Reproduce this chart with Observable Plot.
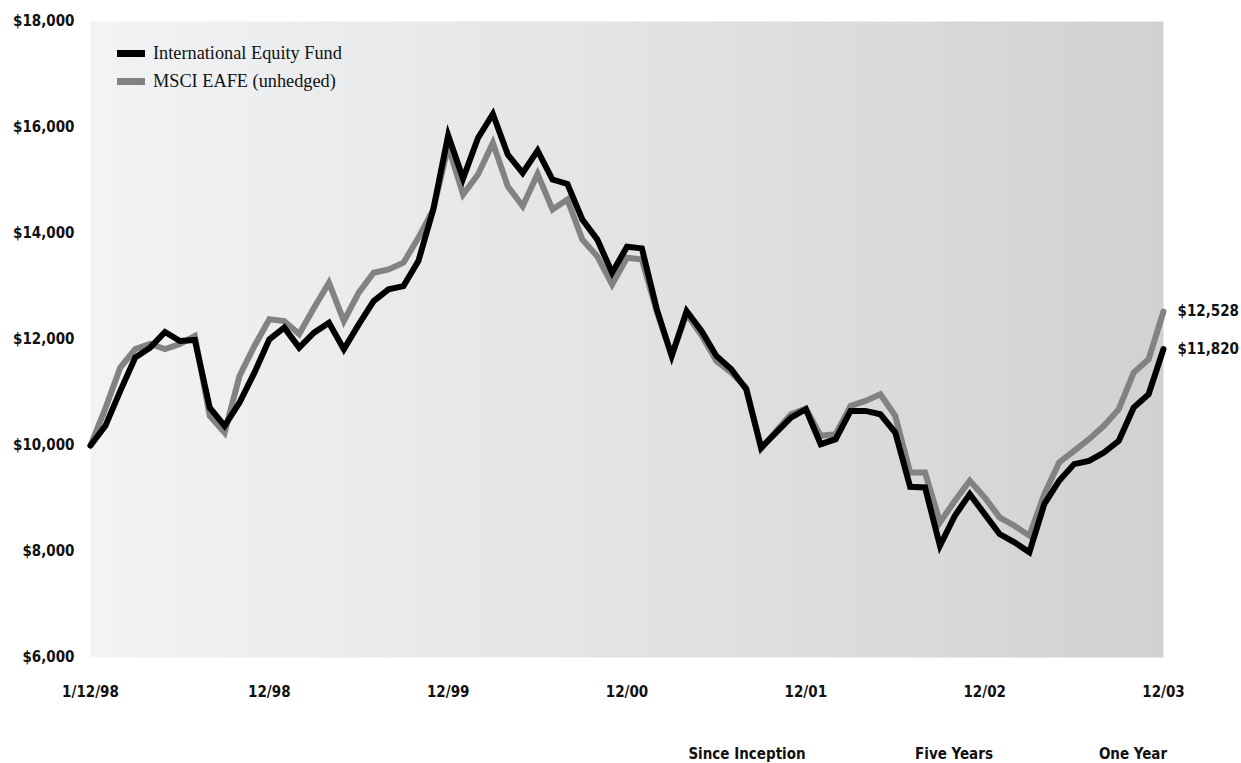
<!DOCTYPE html>
<html>
<head>
<meta charset="utf-8">
<script src="https://cdn.jsdelivr.net/npm/d3@7"></script>
<script src="https://cdn.jsdelivr.net/npm/@observablehq/plot@0.6"></script>
<style>
  html, body { margin: 0; padding: 0; background: #fff; }
  #wrap { position: relative; width: 1241px; height: 763px; overflow: hidden; }
  .lbl { font-family: "Liberation Sans Narrow", "DejaVu Sans Condensed", sans-serif; font-weight: bold; font-size: 15px; color: #111; }
  #legend { position: absolute; left: 117px; top: 39px; font-family: "Liberation Serif", "Times New Roman", serif; font-size: 18.3px; color: #111; }
  #legend .row { display: flex; align-items: center; height: 28.5px; }
  #legend .sw { width: 28px; height: 7px; margin-right: 8px; }
  .bottom { position: absolute; top: 745px; transform: translateX(-50%); white-space: nowrap; }
</style>
</head>
<body>
<div id="wrap"></div>
<script>
const xTickIndex = [0, 12, 24, 36, 48, 60, 72];
const xTickLabels = ["1/12/98", "12/98", "12/99", "12/00", "12/01", "12/02", "12/03"];
const yTicks = [6000, 8000, 10000, 12000, 14000, 16000, 18000];
const seriesNames = ["International Equity Fund", "MSCI EAFE (unhedged)"];
const seriesColors = ["#000000", "#828282"];
const bottomHeaders = ["Since Inception", "Five Years", "One Year"];

// Growth of $10,000, inception then month-ends 1/98 .. 12/03
const fundValues = [
  10000, 10371, 11030, 11658, 11846, 12142, 11972, 11991, 10716, 10371, 10810, 11375,
  12004, 12224, 11846, 12129, 12317, 11815, 12286, 12726, 12946, 13008, 13479, 14450,
  15850, 15037, 15802, 16255, 15490, 15144, 15565, 15018, 14936, 14265, 13889, 13260,
  13750, 13719, 12570, 11690, 12537, 12160, 11690, 11439, 11062, 9962, 10245, 10527,
  10684, 10025, 10119, 10653, 10653, 10590, 10245, 9222, 9209, 8110, 8675, 9083,
  8706, 8330, 8173, 7984, 8894, 9335, 9649, 9711, 9868, 10088, 10716, 10967,
  11820
];
const indexValues = [
  10000, 10700, 11470, 11820, 11915, 11820, 11915, 12066, 10559, 10245, 11313, 11878,
  12381, 12349, 12104, 12600, 13071, 12349, 12883, 13260, 13323, 13448, 13919, 14450,
  15650, 14735, 15112, 15708, 14892, 14515, 15124, 14453, 14641, 13889, 13573, 13040,
  13542, 13511, 12520, 11690, 12480, 12080, 11595, 11375, 11093, 9937, 10270, 10590,
  10700, 10182, 10213, 10747, 10842, 10967, 10559, 9491, 9491, 8549, 8958, 9335,
  9021, 8644, 8487, 8298, 9083, 9680, 9900, 10119, 10371, 10684, 11375, 11627,
  12528
];

const fund = fundValues.map((v, i) => ({i, v}));
const idx = indexValues.map((v, i) => ({i, v}));
const ends = [
  {i: fund.length - 1, v: fundValues[fundValues.length - 1]},
  {i: idx.length - 1, v: indexValues[indexValues.length - 1]}
];
const money = d => "$" + d3.format(",")(d);
const FONT = "'Liberation Sans Narrow', 'DejaVu Sans Condensed', sans-serif";
const FS = 15;

const gradientDefs = () => {
  const ns = "http://www.w3.org/2000/svg";
  const defs = document.createElementNS(ns, "defs");
  defs.innerHTML = '<linearGradient id="bggrad" x1="0" x2="1" y1="0" y2="0">' +
    '<stop offset="0" stop-color="#f2f3f5"/>' +
    '<stop offset="0.5" stop-color="#e2e3e5"/>' +
    '<stop offset="1" stop-color="#d0d1d3"/></linearGradient>';
  return defs;
};

const chart = Plot.plot({
  width: 1241,
  height: 763,
  marginLeft: 90,
  marginRight: 78,
  marginTop: 21,
  marginBottom: 106,
  style: {background: "#fff", fontFamily: FONT, overflow: "visible"},
  x: {domain: [0, 72], axis: null, label: null},
  y: {domain: [6000, 18000], axis: null, label: null},
  marks: [
    gradientDefs,
    Plot.frame({fill: "url(#bggrad)", stroke: "none"}),
    Plot.axisY({ticks: yTicks, tickSize: 0, tickPadding: 16, tickFormat: money, label: null,
      fontSize: FS, fontWeight: "bold", fill: "#111", fontFamily: FONT}),
    Plot.axisX({ticks: xTickIndex, tickSize: 0, tickPadding: 29, label: null,
      tickFormat: d => xTickLabels[xTickIndex.indexOf(d)],
      fontSize: FS, fontWeight: "bold", fill: "#111", fontFamily: FONT}),
    Plot.line(idx, {x: "i", y: "v", stroke: seriesColors[1], strokeWidth: 6, strokeLinejoin: "miter", strokeMiterlimit: 4}),
    Plot.line(fund, {x: "i", y: "v", stroke: seriesColors[0], strokeWidth: 6, strokeLinejoin: "miter", strokeMiterlimit: 4}),
    Plot.text(ends, {x: "i", y: "v", text: d => money(d.v), dx: 14, textAnchor: "start",
      fontSize: FS, fontWeight: "bold", fill: "#111", fontFamily: FONT})
  ]
});

const wrap = document.getElementById("wrap");
wrap.appendChild(chart);

const legend = document.createElement("div");
legend.id = "legend";
seriesNames.forEach((name, k) => {
  const row = document.createElement("div");
  row.className = "row";
  const sw = document.createElement("span");
  sw.className = "sw";
  sw.style.background = seriesColors[k];
  const t = document.createElement("span");
  t.textContent = name;
  row.appendChild(sw);
  row.appendChild(t);
  legend.appendChild(row);
});
wrap.appendChild(legend);

const bottomX = [747, 954, 1133];
bottomHeaders.forEach((h, k) => {
  const d = document.createElement("div");
  d.className = "lbl bottom";
  d.style.left = bottomX[k] + "px";
  d.textContent = h;
  wrap.appendChild(d);
});
</script>
</body>
</html>
